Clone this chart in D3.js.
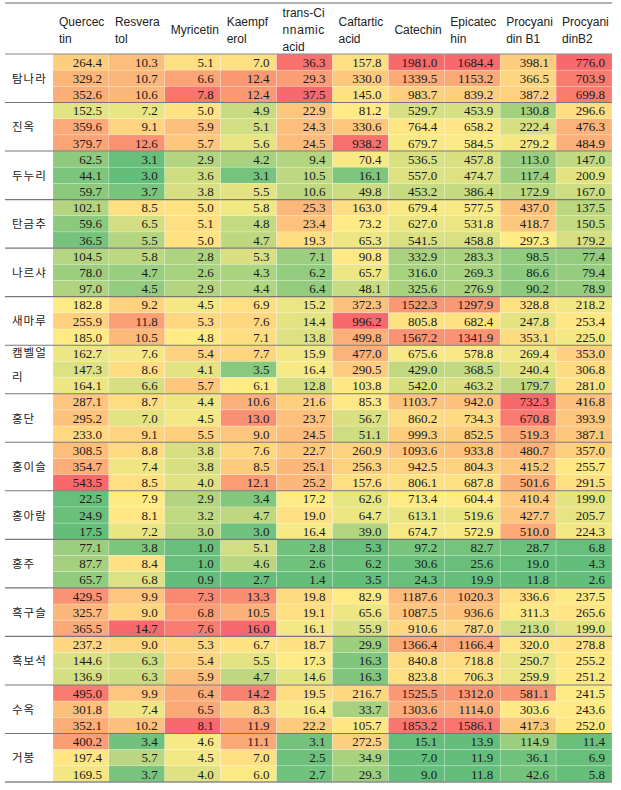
<!DOCTYPE html>
<html>
<head>
<meta charset="utf-8">
<script src="https://cdn.jsdelivr.net/npm/d3@7"></script>
<style>
  body { margin: 0; background: #fff; }
  svg { display: block; }
</style>
</head>
<body>
<script>
// column headers, as they wrap in the narrow table cells
var compounds = ["Quercetin", "Resveratol", "Myricetin", "Kaempferol", "trans-Cinnamic acid",
                 "Caftartic acid", "Catechin", "Epicatechin", "Procyanidin B1", "ProcyanidinB2"];
var headerLines = [["Quercec", "tin"], ["Resvera", "tol"], ["Myricetin"], ["Kaempf", "erol"],
                   ["trans-Ci", "nnamic", "acid"], ["Caftartic", "acid"], ["Catechin"],
                   ["Epicatec", "hin"], ["Procyani", "din  B1"], ["Procyani", "dinB2"]];

// grape varieties (row groups)
var varieties = ["탐나라", "진옥", "두누리", "탄금추", "나르샤", "새마루", "캠벨얼리", "홍단",
                 "홍이슬", "홍아람", "홍주", "흑구슬", "흑보석", "수옥", "거봉"];
var labelLines = {"캠벨얼리": ["캠벨얼", "리"]};

// three replicates per variety, one value per compound
var tamnara = [[264.4, 10.3, 5.1, 7.0, 36.3, 157.8, 1981.0, 1684.4, 398.1, 776.0],
               [329.2, 10.7, 6.6, 12.4, 29.3, 330.0, 1339.5, 1153.2, 366.5, 703.9],
               [352.6, 10.6, 7.8, 12.4, 37.5, 145.0, 983.7, 839.2, 387.2, 699.8]];
var jinok = [[152.5, 7.2, 5.0, 4.9, 22.9, 81.2, 529.7, 453.9, 130.8, 296.6],
             [359.6, 9.1, 5.9, 5.1, 24.3, 330.6, 764.4, 658.2, 222.4, 476.3],
             [379.7, 12.6, 5.7, 5.6, 24.5, 938.2, 679.7, 584.5, 279.2, 484.9]];
var dunuri = [[62.5, 3.1, 2.9, 4.2, 9.4, 70.4, 536.5, 457.8, 113.0, 147.0],
              [44.1, 3.0, 3.6, 3.1, 10.5, 16.1, 557.0, 474.7, 117.4, 200.9],
              [59.7, 3.7, 3.8, 5.5, 10.6, 49.8, 453.2, 386.4, 172.9, 167.0]];
var tangeumchu = [[102.1, 8.5, 5.0, 5.8, 25.3, 163.0, 679.4, 577.5, 437.0, 137.5],
                  [59.6, 6.5, 5.1, 4.8, 23.4, 73.2, 627.0, 531.8, 418.7, 150.5],
                  [36.5, 5.5, 5.0, 4.7, 19.3, 65.3, 541.5, 458.8, 297.3, 179.2]];
var narsha = [[104.5, 5.8, 2.8, 5.3, 7.1, 90.8, 332.9, 283.3, 98.5, 77.4],
              [78.0, 4.7, 2.6, 4.3, 6.2, 65.7, 316.0, 269.3, 86.6, 79.4],
              [97.0, 4.5, 2.9, 4.4, 6.4, 48.1, 325.6, 276.9, 90.2, 78.9]];
var saemaru = [[182.8, 9.2, 4.5, 6.9, 15.2, 372.3, 1522.3, 1297.9, 328.8, 218.2],
               [255.9, 11.8, 5.3, 7.6, 14.4, 996.2, 805.8, 682.4, 247.8, 253.4],
               [185.0, 10.5, 4.8, 7.1, 13.8, 499.8, 1567.2, 1341.9, 353.1, 225.0]];
var campbell = [[162.7, 7.6, 5.4, 7.7, 15.9, 477.0, 675.6, 578.8, 269.4, 353.0],
                [147.3, 8.6, 4.1, 3.5, 16.4, 290.5, 429.0, 368.5, 240.4, 306.8],
                [164.1, 6.6, 5.7, 6.1, 12.8, 103.8, 542.0, 463.2, 179.7, 281.0]];
var hongdan = [[287.1, 8.7, 4.4, 10.6, 21.6, 85.3, 1103.7, 942.0, 732.3, 416.8],
               [295.2, 7.0, 4.5, 13.0, 23.7, 56.7, 860.2, 734.3, 670.8, 393.9],
               [233.0, 9.1, 5.5, 9.0, 24.5, 51.1, 999.3, 852.5, 519.3, 387.1]];
var hongiseul = [[308.5, 8.8, 3.8, 7.6, 22.7, 260.9, 1093.6, 933.8, 480.7, 357.0],
                 [354.7, 7.4, 3.8, 8.5, 25.1, 256.3, 942.5, 804.3, 415.2, 255.7],
                 [543.5, 8.5, 4.0, 12.1, 25.2, 157.6, 806.1, 687.8, 501.6, 291.5]];
var hongaram = [[22.5, 7.9, 2.9, 3.4, 17.2, 62.6, 713.4, 604.4, 410.4, 199.0],
                [24.9, 8.1, 3.2, 4.7, 19.0, 64.7, 613.1, 519.6, 427.7, 205.7],
                [17.5, 7.2, 3.0, 3.0, 16.4, 39.0, 674.7, 572.9, 510.0, 224.3]];
var hongju = [[77.1, 3.8, 1.0, 5.1, 2.8, 5.3, 97.2, 82.7, 28.7, 6.8],
              [87.7, 8.4, 1.0, 4.6, 2.6, 6.2, 30.6, 25.6, 19.0, 4.3],
              [65.7, 6.8, 0.9, 2.7, 1.4, 3.5, 24.3, 19.9, 11.8, 2.6]];
var heukguseul = [[429.5, 9.9, 7.3, 13.3, 19.8, 82.9, 1187.6, 1020.3, 336.6, 237.5],
                  [325.7, 9.0, 6.8, 10.5, 19.1, 65.6, 1087.5, 936.6, 311.3, 265.6],
                  [365.5, 14.7, 7.6, 16.0, 16.1, 55.9, 910.6, 787.0, 213.0, 199.0]];
var heukboseok = [[237.2, 9.0, 5.3, 6.7, 18.7, 29.9, 1366.4, 1166.4, 320.0, 278.8],
                  [144.6, 6.3, 5.4, 5.5, 17.3, 16.3, 840.8, 718.8, 250.7, 255.2],
                  [136.9, 6.3, 5.9, 4.7, 14.6, 16.3, 823.8, 706.3, 259.9, 251.2]];
var suok = [[495.0, 9.9, 6.4, 14.2, 19.5, 216.7, 1525.5, 1312.0, 581.1, 241.5],
            [301.8, 7.4, 6.5, 8.3, 16.4, 33.7, 1303.6, 1114.0, 303.6, 243.6],
            [352.1, 10.2, 8.1, 11.9, 22.2, 105.7, 1853.2, 1586.1, 417.3, 252.0]];
var geobong = [[400.2, 3.4, 4.6, 11.1, 3.1, 272.5, 15.1, 13.9, 114.9, 11.4],
               [197.4, 5.7, 4.5, 7.0, 2.5, 34.9, 7.0, 11.9, 36.1, 6.9],
               [169.5, 3.7, 4.0, 6.0, 2.7, 29.3, 9.0, 11.8, 42.6, 5.8]];

var groupRows = [tamnara, jinok, dunuri, tangeumchu, narsha, saemaru, campbell, hongdan,
                 hongiseul, hongaram, hongju, heukguseul, heukboseok, suok, geobong];

var width = 621,
    height = 790,
    tableLeft = 53, tableRight = 612,
    bodyTop = 54, bodyBottom = 782,
    headTop = 3;

// flatten into cells
var rows = [];
groupRows.forEach(function(g, gi) {
    g.forEach(function(r, ri) {
        rows.push({group: gi, rep: ri, values: r});
    });
});
var cells = [];
rows.forEach(function(r, i) {
    r.values.forEach(function(v, j) {
        cells.push({row: i, col: j, value: v});
    });
});

var x = d3.scaleBand().domain(d3.range(compounds.length)).range([tableLeft, tableRight]);
var y = d3.scaleBand().domain(d3.range(rows.length)).range([bodyTop, bodyBottom]);

// Excel-style 3 colour scale per column: min green, median yellow, max red
var colScales = compounds.map(function(c, j) {
    var vals = rows.map(function(r) { return r.values[j]; }).sort(d3.ascending);
    return d3.scaleLinear()
        .domain([vals[0], d3.quantile(vals, 0.5), vals[vals.length - 1]])
        .range(["#63BE7B", "#FFEB84", "#F8696B"])
        .interpolate(d3.interpolateRgb);
});

var svg = d3.select("body").append("svg")
    .attr("width", width)
    .attr("height", height);

svg.append("g").selectAll("rect")
    .data(cells)
    .enter().append("rect")
    .attr("x", function(d) { return x(d.col); })
    .attr("y", function(d) { return y(d.row); })
    .attr("width", x.bandwidth())
    .attr("height", y.bandwidth())
    .style("fill", function(d) { return colScales[d.col](d.value); })
    .style("stroke", "rgba(255,255,255,0.35)")
    .style("stroke-width", 0.6);

svg.append("g").selectAll("text")
    .data(cells)
    .enter().append("text")
    .attr("x", function(d) { return x(d.col) + x.bandwidth() - 7; })
    .attr("y", function(d) { return y(d.row) + y.bandwidth() / 2 + 4.6; })
    .attr("text-anchor", "end")
    .style("font-family", "'Liberation Serif', 'DejaVu Serif', serif")
    .style("font-size", "13px")
    .style("fill", "#1a1a1a")
    .text(function(d) { return d.value.toFixed(1); });

// header
var head = svg.append("g").selectAll("text")
    .data(headerLines)
    .enter().append("text")
    .style("font-family", "'Liberation Sans', Arial, sans-serif")
    .style("font-size", "12px")
    .style("fill", "#222");
head.each(function(lines, j) {
    var n = lines.length;
    d3.select(this).selectAll("tspan")
        .data(lines)
        .enter().append("tspan")
        .attr("x", x(j) + 6)
        .attr("y", function(l, k) { return 30 + (k - (n - 1) / 2) * 17 + 4; })
        .attr("letter-spacing", function(l) { return l == "nnamic" ? "0.6px" : null; })
        .text(function(l) { return l; });
});

// variety labels
var groupH = y.bandwidth() * 3;
var labels = svg.append("g").selectAll("text")
    .data(varieties)
    .enter().append("text")
    .style("font-family", "'Noto Sans CJK KR', sans-serif")
    .style("font-size", "11.5px")
    .style("letter-spacing", "1px")
    .style("fill", "#222");
labels.each(function(name, gi) {
    var cy = bodyTop + gi * groupH + groupH / 2;
    var lines = labelLines[name] || [name];
    var sel = d3.select(this);
    if (lines.length == 1) {
        sel.append("tspan").attr("x", 12).attr("y", cy + 4.5).text(name);
    } else {
        sel.selectAll("tspan").data(lines).enter().append("tspan")
            .attr("x", 12)
            .attr("y", function(l, k) { return cy - 12 + k * 24; })
            .text(function(l) { return l; });
    }
});

// rules
svg.append("line").attr("x1", 5).attr("x2", tableRight).attr("y1", headTop).attr("y2", headTop)
    .style("stroke", "#999").style("stroke-width", 1.6);
svg.append("line").attr("x1", 5).attr("x2", tableRight).attr("y1", bodyTop).attr("y2", bodyTop)
    .style("stroke", "#888").style("stroke-width", 1.2);
svg.append("g").selectAll("line")
    .data(d3.range(1, varieties.length))
    .enter().append("line")
    .attr("x1", 5).attr("x2", tableRight)
    .attr("y1", function(d) { return bodyTop + d * groupH; })
    .attr("y2", function(d) { return bodyTop + d * groupH; })
    .style("stroke", "#777")
    .style("stroke-width", 1.1);
svg.append("line").attr("x1", 5).attr("x2", tableRight).attr("y1", bodyBottom).attr("y2", bodyBottom)
    .style("stroke", "#888").style("stroke-width", 1.6);
</script>
</body>
</html>
